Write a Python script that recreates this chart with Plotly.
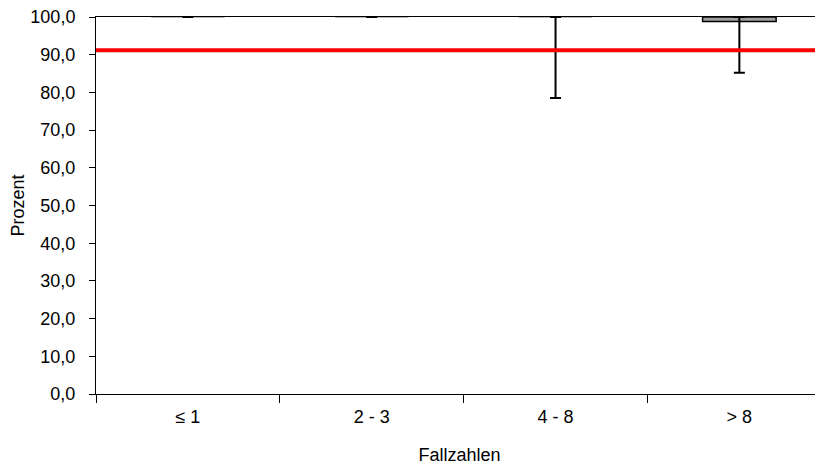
import plotly.graph_objects as go

categories = ["≤ 1", "2 - 3", "4 - 8", "> 8"]
q1 = [100.0, 100.0, 100.0, 98.8]
q3 = [100.0, 100.0, 100.0, 100.0]
low = [100.0, 100.0, 78.5, 85.2]
high = [100.0, 100.0, 100.0, 100.0]
reference_value = 91.2
y_ticks = [0, 10, 20, 30, 40, 50, 60, 70, 80, 90, 100]

fig = go.Figure()

# boxes (collapsed boxes show only as a grey line)
outline = ["#a0a0a0" if a == b else "black" for a, b in zip(q1, q3)]
fig.add_trace(go.Bar(
    x=categories, y=[b - a for a, b in zip(q1, q3)], base=q1,
    width=0.4, marker=dict(color="#a0a0a0", line=dict(color=outline, width=1.5)),
    showlegend=False, hoverinfo="skip"))

# whiskers
fig.add_trace(go.Scatter(
    x=categories, y=q1, mode="markers",
    marker=dict(size=0.1, color="black", opacity=0),
    error_y=dict(type="data", symmetric=False,
                 array=[h - v for h, v in zip(high, q1)],
                 arrayminus=[v - l for v, l in zip(q1, low)],
                 color="black", thickness=2, width=5.5),
    cliponaxis=False, showlegend=False, hoverinfo="skip"))

fig.add_shape(type="line", xref="paper", x0=0, x1=1, yref="y",
              y0=reference_value, y1=reference_value,
              line=dict(color="#ff0000", width=4))

FONT = "Liberation Sans, Arial, sans-serif"
fig.update_layout(
    width=815, height=457,
    margin=dict(l=88, r=0, t=9, b=71),
    paper_bgcolor="white", plot_bgcolor="white",
    separators=",.",
    font=dict(family=FONT, size=18, color="black"),
)
fig.update_xaxes(
    type="category", range=[-0.5, 3.455],
    showline=True, linecolor="black", linewidth=1, mirror=True,
    layer="below traces",
    ticks="outside", tickson="boundaries", ticklen=8, tickcolor="black",
    showgrid=False, zeroline=False,
    tickfont=dict(family=FONT, size=18),
    ticklabelstandoff=6,
    title=dict(text="Fallzahlen", font=dict(family=FONT, size=18), standoff=22),
)
fig.update_yaxes(
    range=[0, 100], tickvals=y_ticks, tickformat=".1f",
    showline=True, linecolor="black", linewidth=1,
    ticks="outside", ticklen=6, tickcolor="black",
    showgrid=False, zeroline=False,
    tickfont=dict(family=FONT, size=18),
    ticklabelstandoff=10, ticklabeloverflow="allow",
    title=dict(text="Prozent", font=dict(family=FONT, size=18), standoff=2),
)

fig.write_html("out.html")
